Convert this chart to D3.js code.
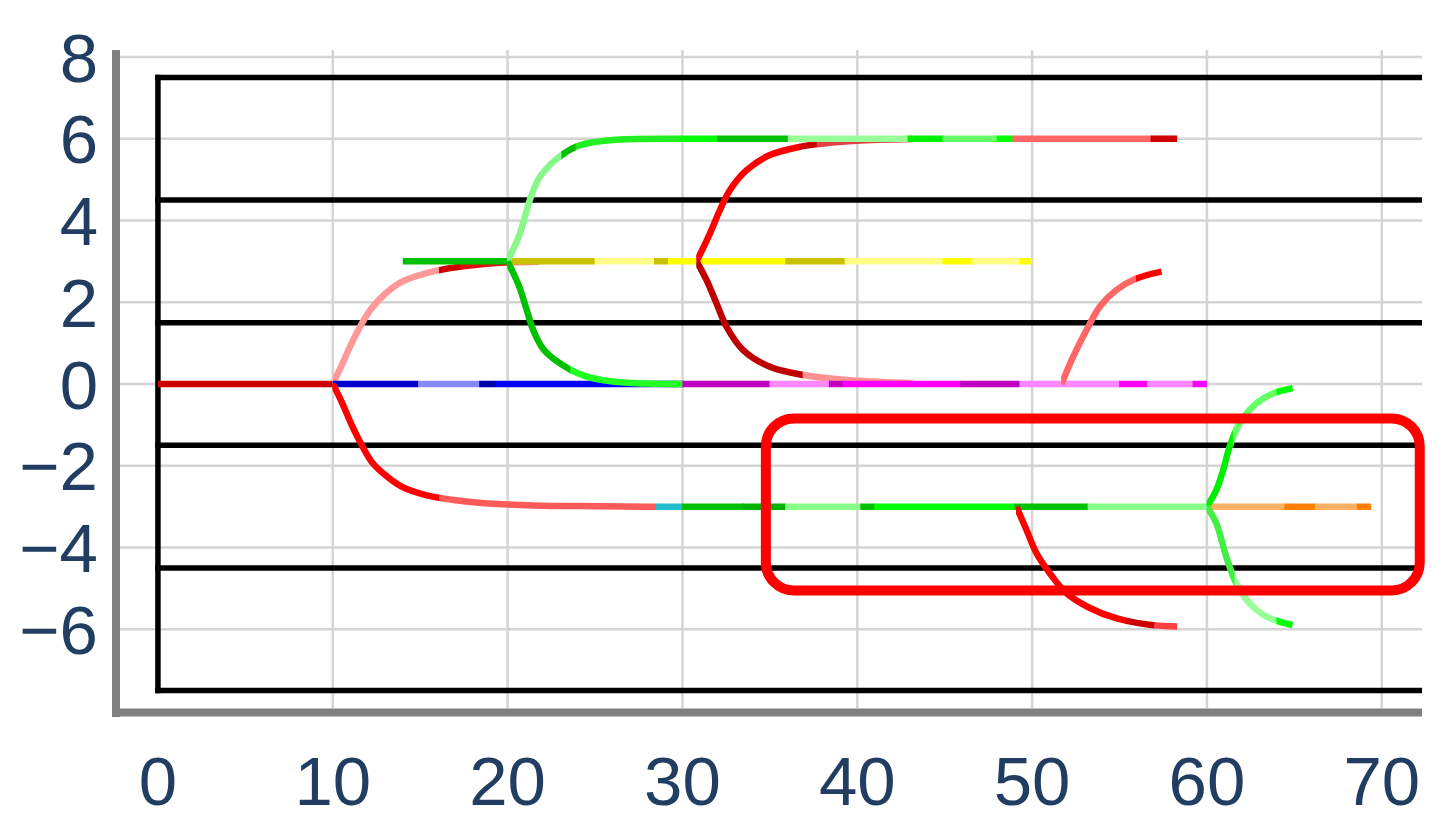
<!DOCTYPE html>
<html>
<head>
<meta charset="utf-8">
<script src="https://cdn.jsdelivr.net/npm/d3@7"></script>
<style>
  html, body { margin: 0; padding: 0; background: #ffffff; }
  svg { display: block; }
</style>
</head>
<body>
<div id="chart"></div>
<script>
// ---------- data ----------
const xTicks = [0, 10, 20, 30, 40, 50, 60, 70];
const yTicks = [-6, -4, -2, 0, 2, 4, 6, 8];
const boundaryLevels = [7.5, 4.5, 1.5, -1.5, -4.5, -7.5];
const boundaryX = 0;

// root
const rootPts = [[0, 0], [10, 0]];
const rootSegs = [[0, 10, '#cc0000']];

// branch from (10,0) up to y=3
const upPinkPts = [[10, 0], [10.5, 0.45], [11.08, 1.0], [11.65, 1.47], [12.22, 1.85], [12.98, 2.2], [13.94, 2.5], [15.27, 2.7], [16.8, 2.84], [18.5, 2.93], [19.9, 2.97], [21.8, 2.99]];
const upPinkSegs = [[10, 16.1, '#ff9999'], [16.1, 17.3, '#cc0000'], [17.3, 20, '#e01010'], [20, 21.8, '#ff8080']];

// short green line at y=3
const greenY3Pts = [[14, 3], [20, 3]];
const greenY3Segs = [[14, 20, '#00c000']];

// yellow line at y=3
const yellowPts = [[20, 3], [50, 3]];
const yellowSegs = [[20, 25, '#c8c000'], [25, 28.4, '#ffff88'], [28.4, 29.2, '#c8c000'], [29.2, 35.9, '#ffff00'], [35.9, 39.3, '#c8c000'], [39.3, 44.9, '#ffff88'], [44.9, 46.6, '#ffff00'], [46.6, 49.3, '#ffff88'], [49.3, 50, '#ffff00']];

// red from (30.8,3) up to 6
const redUpPts = [[30.81, 3], [31.57, 3.68], [32.14, 4.25], [32.71, 4.74], [33.67, 5.23], [35.0, 5.6], [36.7, 5.8], [38.4, 5.9], [39.95, 5.95], [43.2, 5.99]];
const redUpSegs = [[30.81, 36.7, '#ff0000'], [36.7, 37.7, '#cc0000'], [37.7, 43.2, '#e04040']];

// green from (20,3) up to 6 and along y=6
const greenUpPts = [[20, 3], [20.7, 3.68], [21.27, 4.5], [21.85, 5.07], [23.09, 5.6], [24.13, 5.84], [26.0, 5.97], [30, 6], [33, 6], [40, 6], [58.3, 6]];
const greenUpSegs = [[20, 23.1, '#88f888'], [23.1, 23.9, '#00c000'], [23.9, 29.9, '#22ee22'], [29.9, 32, '#00ff00'], [32, 36.05, '#00c000'], [36.05, 42.9, '#99ff99'], [42.9, 44.9, '#00f000'], [44.9, 48, '#66ff66'], [48, 48.9, '#00ff00'], [48.9, 56.8, '#ff6666'], [56.8, 58.3, '#cc0000']];

// red from (30.8,3) down to 0
const redDownPts = [[30.81, 3], [31.38, 2.54], [31.95, 1.97], [32.52, 1.4], [33.47, 0.83], [35.0, 0.42], [36.9, 0.22], [39.4, 0.1], [43.2, 0.02]];
const redDownSegs = [[30.81, 36.9, '#c00000'], [36.9, 43.2, '#ff9090']];

// main line y=0 from 10 to 60
const mainPts = [[10, 0], [60, 0]];
const mainSegs = [[10, 14.9, '#0000cc'], [14.9, 18.4, '#8888ff'], [18.4, 19.3, '#0000aa'], [19.3, 30, '#0000ff'], [30, 35, '#c000c0'], [35, 38.4, '#ff88ff'], [38.4, 39.2, '#c000c0'], [39.2, 45.9, '#ff00ff'], [45.9, 49.3, '#c000c0'], [49.3, 55, '#ff88ff'], [55, 56.6, '#ff00ff'], [56.6, 59.2, '#ff88ff'], [59.2, 60, '#ff00ff']];

// green from (20,3) down to 0
const greenDownPts = [[20, 3], [20.65, 2.4], [21.1, 1.8], [21.5, 1.28], [22.1, 0.82], [23.3, 0.42], [24.4, 0.2], [26, 0.06], [28, 0.01], [30, 0]];
const greenDownSegs = [[20, 23.6, '#00c000'], [23.6, 30, '#22ff22']];

// pink from (51.7,0) up
const pinkUpPts = [[51.68, 0], [52.35, 0.67], [53.11, 1.32], [53.87, 1.89], [54.82, 2.3], [55.96, 2.58], [57.4, 2.75]];
const pinkUpSegs = [[51.68, 55.96, '#ff6666'], [55.96, 57.4, '#ff0000']];

// branch from (10,0) down to -3 and along y=-3
const lowerPts = [[10, 0], [10.5, -0.43], [11.08, -1.0], [11.65, -1.49], [12.22, -1.9], [12.98, -2.22], [13.94, -2.51], [15.27, -2.71], [16.8, -2.83], [18.51, -2.91], [21.5, -2.97], [25, -2.99], [28, -3], [30, -3], [40, -3], [60, -3]];
const lowerSegs = [[10, 16.1, '#ff0000'], [16.1, 28.5, '#ff5a5a'], [28.5, 30, '#22bbcc'], [30, 33.5, '#00c000'], [33.5, 35.9, '#00b400'], [35.9, 40.2, '#88ff88'], [40.2, 41, '#00c000'], [41, 49, '#00ff00'], [49, 53.2, '#00c000'], [53.2, 60, '#88ff88']];

// red from (49,-3) down to -6
const redLowPts = [[49.1, -3], [49.68, -3.57], [50.25, -4.14], [51.01, -4.63], [51.97, -5.12], [53.3, -5.48], [54.8, -5.73], [56.7, -5.89], [58.3, -5.93]];
const redLowSegs = [[49.1, 55.4, '#ff0000'], [55.4, 57, '#cc0000'], [57, 58.3, '#ff4040']];

// orange along y=-3 from 60
const orangePts = [[60, -3], [69.4, -3]];
const orangeSegs = [[60, 64.45, '#ffb060'], [64.45, 66.2, '#ff8000'], [66.2, 68.6, '#ffb060'], [68.6, 69.4, '#ff8000']];

// green from (60,-3) up to 0
const greenUp60Pts = [[60, -3], [60.54, -2.59], [60.93, -2.1], [61.3, -1.53], [61.87, -0.96], [62.83, -0.47], [63.78, -0.23], [64.9, -0.1]];
const greenUp60Segs = [[60, 61.5, '#00ee00'], [61.5, 64, '#66ff66'], [64, 64.9, '#00ff00']];

// green from (60,-3) down to -6
const greenDn60Pts = [[60, -3], [60.54, -3.41], [61.1, -4.22], [61.67, -4.87], [62.43, -5.36], [63.4, -5.69], [64.9, -5.9]];
const greenDn60Segs = [[60, 61.6, '#44ee44'], [61.6, 64, '#99ff99'], [64, 64.9, '#00ff00']];

// highlight annotation (data coordinates)
const annX = [34.77, 72.17];
const annY = [-0.843, -5.05];

// ---------- layout ----------
const W = 1452, H = 834;
const plot = { left: 120, right: 1422, top: 50, bottom: 708 };

const x = d3.scaleLinear().domain([-2.17, 72.3]).range([plot.left, plot.right]);
const y = d3.scaleLinear().domain([-7.926, 8.17]).range([plot.bottom, plot.top]);

const svg = d3.select('#chart').append('svg')
  .attr('width', W).attr('height', H)
  .attr('viewBox', `0 0 ${W} ${H}`);

svg.append('rect').attr('width', W).attr('height', H).attr('fill', '#ffffff');

const defs = svg.append('defs');
defs.append('clipPath').attr('id', 'plotClip')
  .append('rect')
  .attr('x', plot.left).attr('y', plot.top)
  .attr('width', plot.right - plot.left).attr('height', plot.bottom - plot.top);

// gridlines
const grid = svg.append('g').attr('clip-path', 'url(#plotClip)');
grid.selectAll('line.vg').data(xTicks.filter(d => d !== 0)).join('line')
  .attr('class', 'vg')
  .attr('x1', d => x(d)).attr('x2', d => x(d))
  .attr('y1', plot.top).attr('y2', plot.bottom)
  .attr('stroke', '#d4d4d4').attr('stroke-width', 2.5);
grid.selectAll('line.hg').data(yTicks).join('line')
  .attr('class', 'hg')
  .attr('x1', plot.left).attr('x2', plot.right)
  .attr('y1', d => y(d)).attr('y2', d => y(d))
  .attr('stroke', '#d4d4d4').attr('stroke-width', 2.5);

// black boundary lines
const bl = svg.append('g').attr('clip-path', 'url(#plotClip)');
bl.selectAll('line.bh').data(boundaryLevels).join('line')
  .attr('class', 'bh')
  .attr('x1', x(boundaryX)).attr('x2', plot.right + 10)
  .attr('y1', d => y(d)).attr('y2', d => y(d))
  .attr('stroke', '#000').attr('stroke-width', 5.5).attr('stroke-linecap', 'square');
bl.append('line')
  .attr('x1', x(boundaryX)).attr('x2', x(boundaryX))
  .attr('y1', y(d3.max(boundaryLevels))).attr('y2', y(d3.min(boundaryLevels)))
  .attr('stroke', '#000').attr('stroke-width', 5.5).attr('stroke-linecap', 'square');

// branches
const branches = [
  { pts: rootPts, segs: rootSegs },
  { pts: upPinkPts, segs: upPinkSegs },
  { pts: greenY3Pts, segs: greenY3Segs },
  { pts: yellowPts, segs: yellowSegs },
  { pts: redUpPts, segs: redUpSegs },
  { pts: greenUpPts, segs: greenUpSegs },
  { pts: redDownPts, segs: redDownSegs },
  { pts: mainPts, segs: mainSegs },
  { pts: greenDownPts, segs: greenDownSegs },
  { pts: pinkUpPts, segs: pinkUpSegs },
  { pts: lowerPts, segs: lowerSegs },
  { pts: redLowPts, segs: redLowSegs },
  { pts: orangePts, segs: orangeSegs },
  { pts: greenUp60Pts, segs: greenUp60Segs },
  { pts: greenDn60Pts, segs: greenDn60Segs }
];

const line = d3.line().x(d => x(d[0])).y(d => y(d[1])).curve(d3.curveCatmullRom.alpha(0.5));
const lines = svg.append('g').attr('clip-path', 'url(#plotClip)');
let cid = 0;
branches.forEach(b => {
  const dStr = line(b.pts);
  b.segs.forEach(s => {
    const id = 'seg' + (cid++);
    defs.append('clipPath').attr('id', id)
      .append('rect')
      .attr('x', x(s[0]) - 0.4).attr('y', plot.top)
      .attr('width', x(s[1]) - x(s[0]) + 0.8).attr('height', plot.bottom - plot.top);
    lines.append('path')
      .attr('d', dStr)
      .attr('fill', 'none')
      .attr('stroke', s[2])
      .attr('stroke-width', 6.5)
      .attr('stroke-linejoin', 'round')
      .attr('clip-path', `url(#${id})`);
  });
});

// axis bars
svg.append('line')
  .attr('x1', plot.left - 4).attr('x2', plot.left - 4)
  .attr('y1', plot.top).attr('y2', plot.bottom + 9)
  .attr('stroke', '#808080').attr('stroke-width', 8);
svg.append('line')
  .attr('x1', plot.left - 8).attr('x2', plot.right)
  .attr('y1', plot.bottom + 4.5).attr('y2', plot.bottom + 4.5)
  .attr('stroke', '#808080').attr('stroke-width', 8);

// tick labels
const fmt = d => (d < 0 ? '\u2212' + Math.abs(d) : String(d));
const labelColor = '#213d62';
const font = "'Liberation Sans', Arial, sans-serif";
svg.append('g').selectAll('text').data(yTicks).join('text')
  .attr('x', 98).attr('y', d => y(d)).attr('dy', '0.358em')
  .attr('text-anchor', 'end')
  .attr('font-family', font).attr('font-size', 69)
  .attr('fill', labelColor)
  .text(fmt);
svg.append('g').selectAll('text').data(xTicks).join('text')
  .attr('x', d => x(d)).attr('y', 805)
  .attr('text-anchor', 'middle')
  .attr('font-family', font).attr('font-size', 69)
  .attr('fill', labelColor)
  .text(fmt);

// highlight annotation
svg.append('rect')
  .attr('x', x(annX[0])).attr('y', y(annY[0]))
  .attr('width', x(annX[1]) - x(annX[0]))
  .attr('height', y(annY[1]) - y(annY[0]))
  .attr('rx', 28).attr('ry', 28)
  .attr('fill', 'none')
  .attr('stroke', '#ff0000').attr('stroke-width', 10);
</script>
</body>
</html>
